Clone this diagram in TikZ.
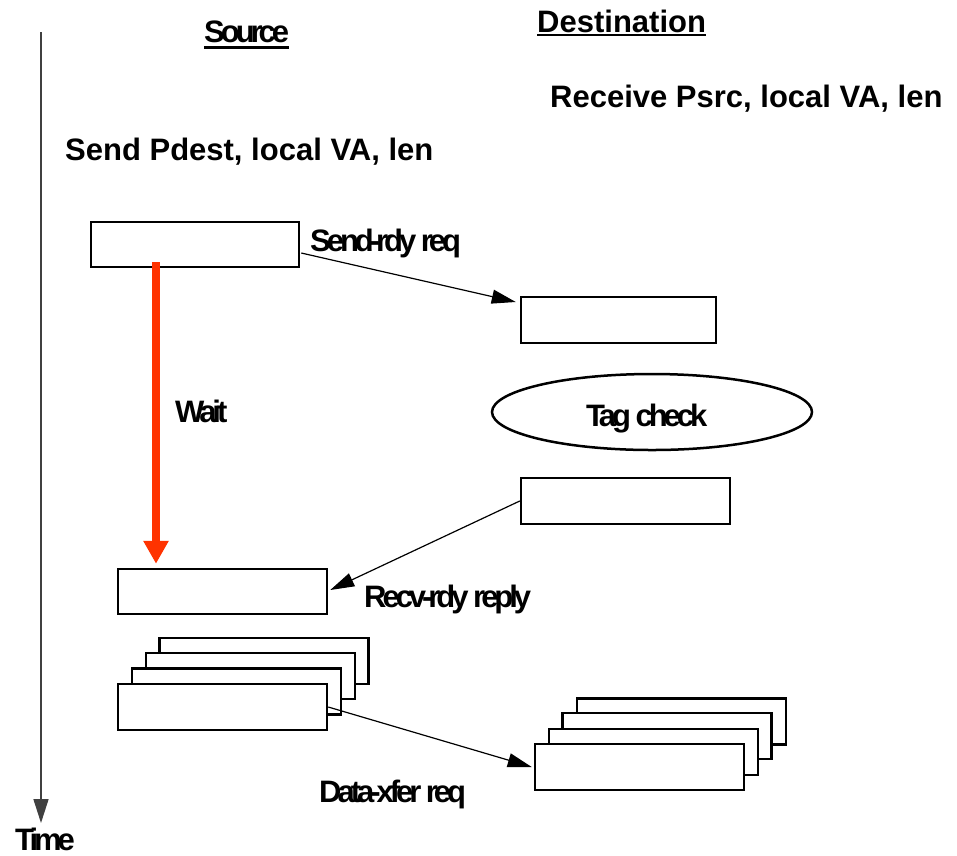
\documentclass[tikz,border=0pt]{standalone}
\usepackage{fontspec}
\setmainfont{Liberation Sans}
\newfontfamily\tightbf[LetterSpace=-13]{Liberation Sans Bold}
\newfontfamily\plainbf{Liberation Sans Bold}
\usetikzlibrary{arrows.meta,shapes.geometric,calc}
\definecolor{waitred}{RGB}{255,51,0}
\tikzset{
  box/.style={draw, line width=2.5pt, minimum width=209pt, minimum height=46pt, inner sep=0pt, fill=white},
  msg/.style={line width=1.2pt, -{Triangle[length=24pt,width=14pt]}},
  timeaxis/.style={draw=black!75, line width=1.6pt, -{Triangle[length=24pt,width=15pt]}},
  waitarrow/.style={draw=waitred, line width=8pt, -{Triangle[length=23pt,width=24pt]}, color=waitred},
  lbl/.style={inner sep=0pt, anchor=base west, font=\tightbf\fontsize{31}{36}\selectfont},
  hdr/.style={inner sep=0pt, anchor=base west, font=\plainbf\fontsize{31}{36}\selectfont},
  uline/.style={line width=2.5pt}
}
\begin{document}
\begin{tikzpicture}[x=1pt,y=-1pt]
\useasboundingbox[fill=white] (0,0) rectangle (957,855);
% time axis
\coordinate (t0) at (41,32);
\coordinate (t1) at (41,823);
\draw[timeaxis] (t0) -- (t1);
\node[lbl] (time) at (15,850) {Time};
% headers
\node[lbl] (src) at (204,42) {Source};
\draw[uline] ($(src.south west)+(0,5)$) -- ($(src.south east)+(0,5)$);
\node[hdr] (dst) at (537,32) {Destination};
\draw[uline] ($(dst.south west)+(0,2.5)$) -- ($(dst.south east)+(0,2.5)$);
\node[hdr] (recv) at (550,107) {Receive Psrc, local VA, len};
\node[hdr] (send) at (65,160) {Send Pdest, local VA, len};
% boxes
\node[box, minimum width=208pt, minimum height=45pt] (A) at (195,244.5) {};
\node[box, minimum width=195pt] (B) at (618.5,320) {};
\node[box] (C) at (625.5,501) {};
\node[box, minimum height=45pt] (D) at (222.5,591.5) {};
% tag check
\node[draw, ellipse, line width=2.5pt, minimum width=320pt, minimum height=76pt, inner sep=0pt] (tag) at (652,412) {};
\node[lbl] (tagtxt) at (586,426) {Tag check};
% stacks
\node[box] (E4) at (264,661) {};
\node[box] (E3) at (250.5,676) {};
\node[box] (E2) at (236.5,691.5) {};
\node[box] (E1) at (222.5,707) {};
\node[box] (F4) at (681.5,721.5) {};
\node[box] (F3) at (667,736) {};
\node[box] (F2) at (653.5,752) {};
\node[box] (F1) at (639.5,767) {};
% wait arrow
\coordinate (w0) at (156,262);
\draw[waitarrow] (w0) -- ($(w0 |- D.north)+(0,-4)$);
\node[lbl] (wait) at (175,422) {Wait};
% messages
\draw[msg] ($(A.east)+(1,8.5)$) -- ($(B.west)+(-4,-18)$);
\node[lbl] (sendrdy) at (310,251) {Send-rdy req};
\draw[msg] (C.west) -- ($(D.east)+(2,-1.5)$);
\node[lbl] (recvrdy) at (364,607) {Recv-rdy reply};
\draw[msg] (E1.east) -- ($(F1.west)+(-2,0)$);
\node[lbl] (xfer) at (319,802) {Data-xfer req};
\end{tikzpicture}
\end{document}
